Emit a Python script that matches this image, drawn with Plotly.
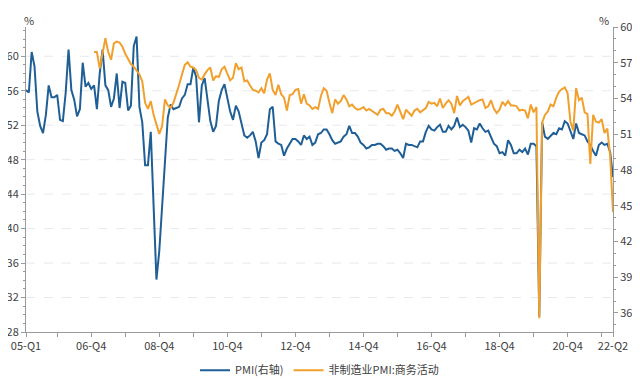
import pandas as pd
import plotly.graph_objects as go

# Monthly categories Jan 2005 .. Apr 2022
months = [d.strftime("%Y-%m") for d in pd.date_range("2005-01-01", "2022-04-01", freq="MS")]

# Manufacturing PMI (right axis)
pmi = [
    54.7, 54.5, 57.9, 56.7, 52.9, 51.7, 51.1, 52.6, 55.1, 54.1, 54.1, 54.3,
    52.2, 52.1, 54.5, 58.1, 54.7, 53.9, 52.5, 53.1, 57.0, 55.0, 55.3, 54.8,
    55.1, 53.1, 56.1, 58.1, 55.1, 54.7, 53.3, 54.0, 56.1, 53.2, 55.4, 55.3,
    53.0, 53.4, 58.4, 59.2, 53.3, 52.0, 48.4, 48.4, 51.2, 44.6, 38.8, 41.2,
    45.3, 49.0, 52.4, 53.5, 53.1, 53.2, 53.3, 54.0, 54.3, 55.2, 55.2, 56.6,
    55.8, 52.0, 55.1, 55.7, 53.9, 52.1, 51.2, 51.7, 53.8, 54.7, 55.2, 53.9,
    52.9, 52.2, 53.4, 52.9, 52.0, 50.9, 50.7, 50.9, 51.2, 50.4, 49.0, 50.3,
    50.5, 51.0, 53.1, 53.3, 50.4, 50.2, 50.1, 49.2, 49.8, 50.2, 50.6, 50.6,
    50.4, 50.1, 50.9, 50.6, 50.8, 50.1, 50.3, 51.0, 51.1, 51.4, 51.4, 51.0,
    50.5, 50.2, 50.3, 50.4, 50.8, 51.0, 51.7, 51.1, 51.1, 50.8, 50.3, 50.1,
    49.8, 49.9, 50.1, 50.1, 50.2, 50.2, 50.0, 49.7, 49.8, 49.8, 49.6, 49.7,
    49.4, 49.0, 50.2, 50.1, 50.1, 50.0, 49.9, 50.4, 50.4, 51.2, 51.7, 51.4,
    51.3, 51.6, 51.8, 51.2, 51.2, 51.7, 51.4, 51.7, 52.4, 51.6, 51.8, 51.6,
    51.3, 50.3, 51.5, 51.4, 51.9, 51.5, 51.2, 51.3, 50.8, 50.2, 50.0, 49.4,
    49.5, 49.2, 50.5, 50.1, 49.4, 49.4, 49.7, 49.5, 49.8, 49.3, 50.2, 50.2,
    50.0, 35.7, 52.0, 50.8, 50.6, 50.9, 51.1, 51.0, 51.5, 51.4, 52.1, 51.9,
    51.3, 50.6, 51.9, 51.1, 51.0, 50.9, 50.4, 50.1, 49.6, 49.2, 50.1, 50.3,
    50.1, 50.2, 49.5, 47.4,
]

# Non-manufacturing PMI: business activity (left axis), starts Jan 2007
nonmfg = [None] * 24 + [
    60.5, 60.5, 58.6, 60.5, 62.1, 60.5, 59.6, 61.5, 61.7, 61.6, 61.1, 60.3,
    59.7, 59.1, 58.8, 58.4, 57.9, 57.1, 54.6, 53.9, 54.8, 53.2, 52.0, 51.0,
    51.9, 55.0, 54.3, 54.0, 54.6, 55.6, 56.7, 57.9, 59.0, 59.3, 58.8, 58.7,
    58.4, 57.5, 57.3, 57.9, 58.4, 58.7, 57.2, 57.7, 57.6, 58.5, 58.8, 58.0,
    57.2, 57.5, 59.2, 58.5, 58.7, 57.1, 57.2, 56.6, 56.1, 56.0, 55.8, 56.3,
    55.7, 57.3, 58.0, 56.1, 55.5, 56.7, 55.6, 55.2, 53.7, 55.5, 55.6, 56.1,
    56.2, 54.5, 55.6, 54.5, 54.3, 53.9, 54.1, 53.9, 55.4, 56.3, 56.0, 54.6,
    53.4, 55.0, 54.5, 54.8, 55.5, 55.0, 54.2, 54.4, 54.0, 53.8, 53.9, 54.1,
    53.7, 53.9, 53.7, 53.4, 53.2, 53.8, 53.9, 53.4, 53.4, 53.1, 53.6, 54.4,
    53.5, 52.7, 53.8, 53.5, 53.1, 53.7, 53.9, 53.5, 53.7, 54.0, 54.7, 54.5,
    54.6, 54.2, 55.1, 54.0, 54.5, 54.9, 54.5, 53.4, 55.4, 54.3, 54.8, 55.0,
    55.3, 54.4, 54.6, 54.8, 54.9, 55.0, 54.0, 54.2, 54.9, 53.9, 53.4, 53.8,
    54.7, 54.3, 54.8, 54.3, 54.3, 54.2, 53.7, 53.8, 53.7, 52.8, 54.4, 53.5,
    54.1, 29.6, 52.3, 53.2, 53.6, 54.4, 54.2, 55.2, 55.9, 56.2, 56.4, 55.7,
    52.4, 51.4, 56.3, 54.9, 55.2, 53.5, 53.3, 47.5, 53.2, 52.4, 52.3, 52.7,
    51.1, 51.6, 48.4, 41.9,
]

# Tick positions (yearly) and labels
tick_months = ["2005-01"] + [f"{y}-12" for y in range(2005, 2022)] + ["2022-04"]
label_map = {"2005-01": "05-Q1", "2022-04": "22-Q2"}
for y in range(2006, 2021, 2):
    label_map[f"{y}-12"] = f"{str(y)[2:]}-Q4"
tick_text = [label_map.get(m, "") for m in tick_months]

left_ticks = [28, 32, 36, 40, 44, 48, 52, 56, 60]
right_ticks = [36, 39, 42, 45, 48, 51, 54, 57, 60]

BLUE = "#1f5f96"
ORANGE = "#f2a02d"
AXIS = "#9a9a9a"
TXT = "#404040"
FONT = "Noto Sans CJK SC"

fig = go.Figure()
# base axis "y" is the right-hand PMI axis; "y2" (overlaying, drawn on top) is the left axis
fig.add_trace(go.Scatter(
    x=months, y=pmi, name="PMI(右轴)", mode="lines",
    line=dict(color=BLUE, width=2), yaxis="y", legendrank=1,
))
fig.add_trace(go.Scatter(
    x=months, y=nonmfg, name="非制造业PMI:商务活动", mode="lines",
    line=dict(color=ORANGE, width=2), yaxis="y2", legendrank=2,
))

# faint dashed gridlines at the left-axis ticks, beneath the lines
shapes = [
    dict(type="line", xref="paper", x0=0, x1=1, yref="y2", y0=v, y1=v, layer="below",
         line=dict(color="#e6e9ee", width=1, dash="dash"))
    for v in left_ticks[1:]
]

# the page body has an 8px margin, so the figure is 632x372 placed at (8, 8)
fig.update_layout(
    width=632, height=372,
    margin=dict(l=18, r=27, t=19, b=48, autoexpand=False),
    paper_bgcolor="white", plot_bgcolor="white",
    font=dict(family=FONT, size=11, color=TXT),
    showlegend=True,
    legend=dict(orientation="h", x=0.5, xanchor="center", y=-0.125, yanchor="middle",
                font=dict(size=11, color=TXT), itemwidth=30, bgcolor="rgba(0,0,0,0)"),
    xaxis=dict(
        type="category", categoryorder="array", categoryarray=months,
        range=[0, len(months) - 1], automargin=False,
        tickmode="array", tickvals=tick_months, ticktext=tick_text,
        ticks="outside", ticklen=4, tickcolor=AXIS,
        showline=True, linecolor=AXIS, linewidth=1, showgrid=False,
        tickfont=dict(size=11, color=TXT), zeroline=False,
    ),
    yaxis=dict(
        range=[34.4, 60], side="right", tickmode="array", tickvals=right_ticks,
        automargin=False,
        ticks="outside", ticklen=4, tickcolor=AXIS,
        minor=dict(dtick=1, tick0=36, ticks="outside", ticklen=2, tickcolor=AXIS, showgrid=False),
        showline=True, linecolor=AXIS, linewidth=1, showgrid=False,
        zeroline=False, tickfont=dict(size=11, color=TXT),
    ),
    yaxis2=dict(
        range=[28, 63.4], overlaying="y", side="left", tickmode="array", tickvals=left_ticks,
        automargin=False,
        ticks="outside", ticklen=4, tickcolor=AXIS,
        minor=dict(dtick=1, tick0=28, ticks="outside", ticklen=2, tickcolor=AXIS, showgrid=False),
        showline=True, linecolor=AXIS, linewidth=1, showgrid=False,
        zeroline=False, tickfont=dict(size=11, color=TXT),
    ),
    shapes=shapes,
    annotations=[
        dict(text="%", xref="paper", yref="paper", x=0, y=1, xshift=-4, yshift=17,
             showarrow=False, font=dict(size=11, color=TXT)),
        dict(text="%", xref="paper", yref="paper", x=1, y=1, xshift=-2, yshift=17,
             showarrow=False, font=dict(size=11, color=TXT)),
    ],
)

fig.write_html("out.html")
